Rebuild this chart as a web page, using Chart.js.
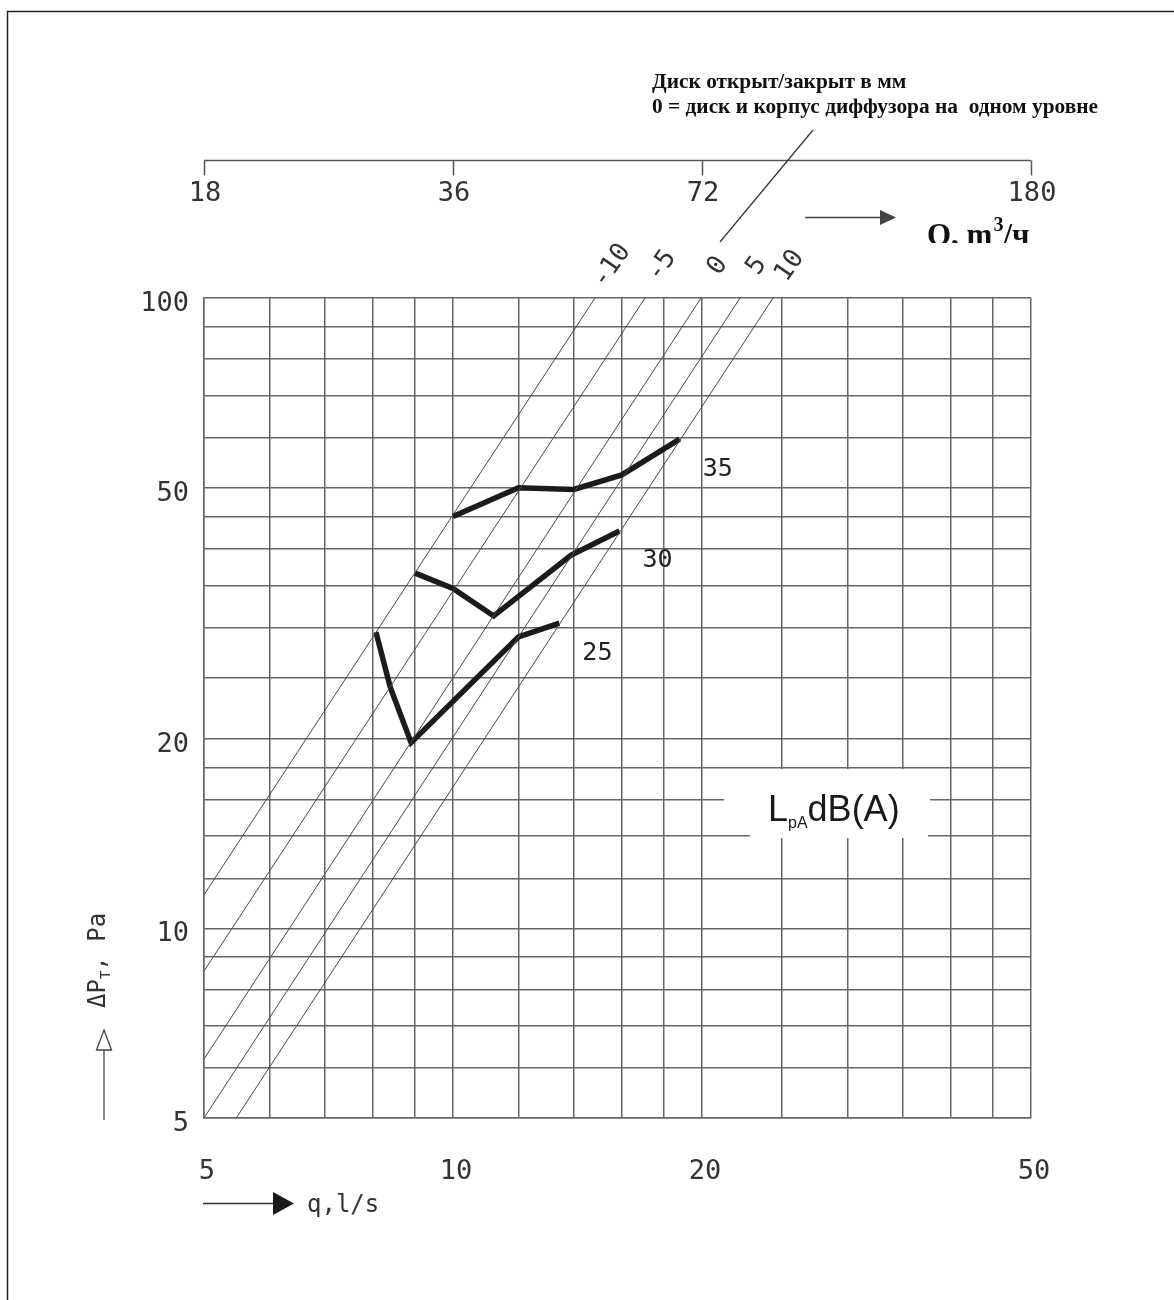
<!DOCTYPE html>
<html>
<head>
<meta charset="utf-8">
<script src="https://cdn.jsdelivr.net/npm/chart.js@4/dist/chart.umd.min.js"></script>
<style>
  html, body { margin: 0; padding: 0; background: #ffffff; }
  canvas { display: block; }
</style>
</head>
<body>
<canvas id="c" width="1174" height="1300"></canvas>
<script>
// ---- data ----
const qGridTicks = [5, 6, 7, 8, 9, 10, 12, 14, 16, 18, 20, 25, 30, 35, 40, 45, 50];
const dpGridTicks = [5, 6, 7, 8, 9, 10, 12, 14, 16, 18, 20, 25, 30, 35, 40, 45, 50, 60, 70, 80, 90, 100];
const qTickLabels = [5, 10, 20, 50];
const dpTickLabels = [5, 10, 20, 50, 100];
const qTopTickLabels = [18, 36, 72, 180];

const discPositions = ['-10', '-5', '0', '5', '10'];
const discLineQ = [[5, 14.85], [5, 17.07], [5, 19.95], [5, 22.24], [5.47, 24.38]];
const discLineDP = [[11.3, 100], [8.55, 100], [6.2, 100], [5, 100], [5, 100]];

const noiseLevels = ['35', '30', '25'];
const noise35Q = [10, 12, 14, 16, 18.8];
const noise35DP = [45, 50, 49.7, 52.4, 59.7];
const noise30Q = [9, 10, 11.2, 13.9, 15.9];
const noise30DP = [36.6, 34.6, 31.3, 39.1, 42.7];
const noise25Q = [8.07, 8.4, 8.9, 12, 13.45];
const noise25DP = [29.5, 24.1, 19.7, 29, 30.5];

const titleLine1 = 'Диск открыт/закрыт в мм';
const titleLine2 = '0 = диск и корпус диффузора на  одном уровне';

// ---- build datasets ----
const toPts = (qs, ds) => qs.map((q, i) => ({ x: q, y: ds[i] }));
const datasets = [];
discPositions.forEach((lab, i) => {
  datasets.push({
    label: 'disc ' + lab,
    data: toPts(discLineQ[i], discLineDP[i]),
    borderColor: '#4a4a4a', borderWidth: 1, pointRadius: 0, tension: 0
  });
});
const noiseQ = [noise35Q, noise30Q, noise25Q];
const noiseDP = [noise35DP, noise30DP, noise25DP];
noiseLevels.forEach((lab, i) => {
  datasets.push({
    label: 'LpA ' + lab,
    data: toPts(noiseQ[i], noiseDP[i]),
    borderColor: '#1b1b1b', borderWidth: 5.5, pointRadius: 0, tension: 0,
    borderJoinStyle: 'miter', borderCapStyle: 'butt'
  });
});

const MONO = '"DejaVu Sans Mono", "Liberation Mono", monospace';
const SERIF = '"Liberation Serif", "Times New Roman", serif';
const SANS = '"Liberation Sans", Arial, sans-serif';

const decor = {
  id: 'decor',
  afterDraw(chart) {
    const ctx = chart.ctx;
    const xs = chart.scales.x, ys = chart.scales.y, xq = chart.scales.xQ;
    const area = chart.chartArea;
    ctx.save();

    // page frame
    ctx.strokeStyle = '#222'; ctx.lineWidth = 1.5;
    ctx.beginPath(); ctx.moveTo(7.5, 1300); ctx.lineTo(7.5, 11.5); ctx.lineTo(1174, 11.5); ctx.stroke();

    // y tick labels
    ctx.fillStyle = '#333';
    ctx.font = '27px ' + MONO;
    ctx.textAlign = 'right'; ctx.textBaseline = 'middle';
    dpTickLabels.forEach(v => ctx.fillText(String(v), area.left - 15, ys.getPixelForValue(v) + 6));

    // x tick labels
    ctx.textAlign = 'center';
    qTickLabels.forEach(v => ctx.fillText(String(v), xs.getPixelForValue(v) + 3, area.bottom + 54));

    // top axis (Q, m3/h)
    const topY = 160.5;
    ctx.strokeStyle = '#555'; ctx.lineWidth = 1.5;
    ctx.beginPath();
    ctx.moveTo(xq.getPixelForValue(qTopTickLabels[0]), topY);
    ctx.lineTo(xq.getPixelForValue(qTopTickLabels[qTopTickLabels.length - 1]), topY);
    qTopTickLabels.forEach(v => {
      const px = Math.round(xq.getPixelForValue(v)) + 0.5;
      ctx.moveTo(px, topY); ctx.lineTo(px, topY + 15);
    });
    ctx.stroke();
    qTopTickLabels.forEach(v => ctx.fillText(String(v), xq.getPixelForValue(v) + 1, 194));

    // arrow to Q label
    ctx.strokeStyle = '#444'; ctx.fillStyle = '#444'; ctx.lineWidth = 1.5;
    ctx.beginPath(); ctx.moveTo(805, 217.5); ctx.lineTo(884, 217.5); ctx.stroke();
    ctx.beginPath(); ctx.moveTo(880, 210); ctx.lineTo(896, 217.5); ctx.lineTo(880, 225); ctx.closePath(); ctx.fill();

    // Q, m3/ч (clipped like the original)
    ctx.save();
    ctx.beginPath(); ctx.rect(900, 195, 190, 48); ctx.clip();
    ctx.fillStyle = '#111'; ctx.textAlign = 'left'; ctx.textBaseline = 'alphabetic';
    ctx.font = 'bold 31px ' + SERIF;
    let tx = 927;
    ctx.fillText('Q, m', tx, 245); tx += ctx.measureText('Q, m').width + 1;
    ctx.font = 'bold 20px ' + SERIF;
    ctx.fillText('3', tx, 231); tx += ctx.measureText('3').width;
    ctx.font = 'bold 31px ' + SERIF;
    ctx.fillText('/ч', tx, 245);
    ctx.restore();

    // title lines
    ctx.fillStyle = '#111'; ctx.textAlign = 'left'; ctx.textBaseline = 'alphabetic';
    ctx.font = 'bold 20px ' + SERIF;
    const w2 = ctx.measureText(titleLine2).width;
    const fs = 20 * 446 / w2;
    ctx.font = 'bold ' + fs.toFixed(2) + 'px ' + SERIF;
    ctx.fillText(titleLine1, 652, 88);
    ctx.fillText(titleLine2, 652, 113);

    // pointer line from disc label area to title
    ctx.strokeStyle = '#333'; ctx.lineWidth = 1.2;
    ctx.beginPath(); ctx.moveTo(720, 242); ctx.lineTo(813, 130); ctx.stroke();

    // disc position labels (rotated)
    ctx.fillStyle = '#333';
    ctx.font = '26px ' + MONO;
    ctx.textAlign = 'center'; ctx.textBaseline = 'middle';
    discPositions.forEach((lab, i) => {
      const px = xs.getPixelForValue(discLineQ[i][1]);
      const py = ys.getPixelForValue(discLineDP[i][1]);
      ctx.save();
      ctx.translate(px + 17, py - 32);
      ctx.rotate(-55 * Math.PI / 180);
      ctx.fillText(lab, 0, 0);
      ctx.restore();
    });

    // noise level labels
    ctx.fillStyle = '#222';
    ctx.font = '25px ' + MONO;
    noiseLevels.forEach((lab, i) => {
      const n = noiseQ[i].length - 1;
      const px = xs.getPixelForValue(noiseQ[i][n]);
      const py = ys.getPixelForValue(noiseDP[i][n]);
      ctx.fillText(lab, px + 38, py + 30);
    });

    // LpA dB(A) box
    ctx.fillStyle = '#ffffff';
    ctx.fillRect(750, 769, 178, 69);
    ctx.fillRect(724, 769, 206, 33);
    ctx.fillStyle = '#1a1a1a'; ctx.textAlign = 'left'; ctx.textBaseline = 'alphabetic';
    let lx = 768;
    ctx.font = '36px ' + SANS;
    ctx.fillText('L', lx, 821); lx += ctx.measureText('L').width;
    ctx.font = '16px ' + SANS;
    ctx.fillText('pA', lx, 828); lx += ctx.measureText('pA').width;
    ctx.font = '36px ' + SANS;
    ctx.fillText('dB(A)', lx, 821);

    // y axis title with hollow arrow
    ctx.save();
    ctx.translate(105, 1008);
    ctx.rotate(-Math.PI / 2);
    ctx.fillStyle = '#333';
    ctx.font = '24px ' + MONO;
    let ax = 0;
    ctx.fillText('ΔP', ax, 0); ax += ctx.measureText('ΔP').width;
    ctx.font = '14px ' + MONO;
    ctx.fillText('T', ax, 5); ax += ctx.measureText('T').width;
    ctx.font = '24px ' + MONO;
    ctx.fillText(', Pa', ax, 0);
    ctx.restore();
    ctx.strokeStyle = '#444'; ctx.lineWidth = 1.3;
    ctx.beginPath(); ctx.moveTo(104, 1120); ctx.lineTo(104, 1050); ctx.stroke();
    ctx.beginPath(); ctx.moveTo(104, 1030); ctx.lineTo(111.5, 1050); ctx.lineTo(96.5, 1050); ctx.closePath();
    ctx.fillStyle = '#fff'; ctx.fill(); ctx.stroke();

    // x axis title with filled arrow
    ctx.strokeStyle = '#333'; ctx.fillStyle = '#1a1a1a'; ctx.lineWidth = 1.5;
    ctx.beginPath(); ctx.moveTo(203, 1203.5); ctx.lineTo(276, 1203.5); ctx.stroke();
    ctx.beginPath(); ctx.moveTo(273, 1192); ctx.lineTo(294, 1203.5); ctx.lineTo(273, 1215); ctx.closePath(); ctx.fill();
    ctx.fillStyle = '#333';
    ctx.font = '24px ' + MONO;
    ctx.fillText('q,l/s', 307, 1212);

    ctx.restore();
  }
};

const gridColor = '#666666';
new Chart(document.getElementById('c'), {
  type: 'line',
  data: { datasets },
  options: {
    responsive: false,
    animation: false,
    devicePixelRatio: 1,
    layout: { padding: { left: 204, right: 143, top: 298, bottom: 182 } },
    plugins: { legend: { display: false }, tooltip: { enabled: false } },
    scales: {
      x: {
        type: 'logarithmic', min: 5, max: 50,
        afterBuildTicks: ax => { ax.ticks = qGridTicks.map(v => ({ value: v })); },
        ticks: { display: false },
        grid: { color: gridColor, lineWidth: 1.5, drawTicks: false },
        border: { color: gridColor, width: 1.5 }
      },
      y: {
        type: 'logarithmic', min: 5, max: 100,
        afterBuildTicks: ax => { ax.ticks = dpGridTicks.map(v => ({ value: v })); },
        ticks: { display: false },
        grid: { color: gridColor, lineWidth: 1.5, drawTicks: false },
        border: { color: gridColor, width: 1.5 }
      },
      xQ: {
        type: 'logarithmic', position: 'top', min: 18, max: 180, display: false
      }
    }
  },
  plugins: [decor]
});
</script>
</body>
</html>
